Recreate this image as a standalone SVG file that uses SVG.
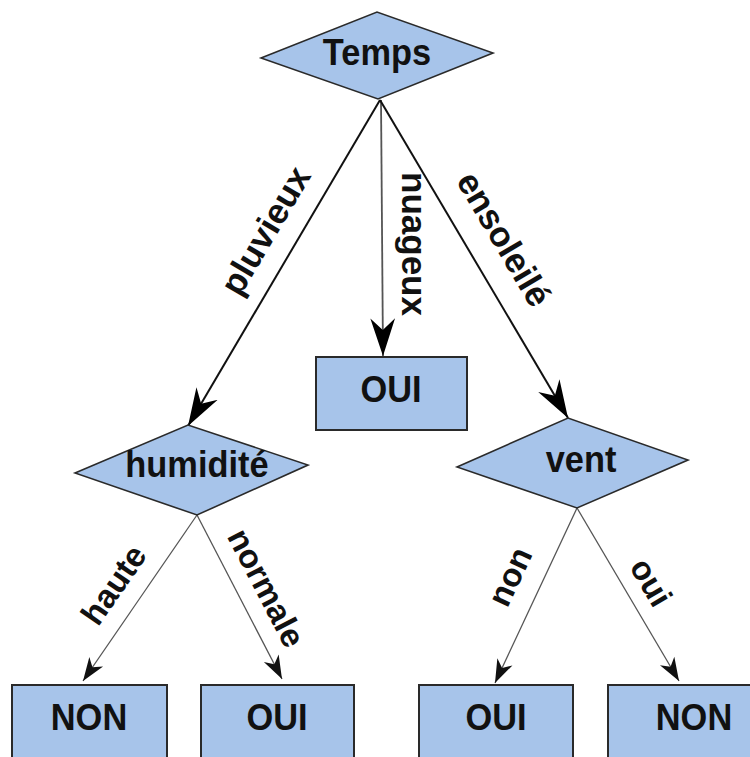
<svg xmlns="http://www.w3.org/2000/svg" width="750" height="757" viewBox="0 0 750 757">
<style>
.node{fill:#a7c4ea;stroke:#2a2a2a;stroke-width:2}
.dia{fill:#a7c4ea;stroke:#2a2a2a;stroke-width:1.6}
.nl{font-family:"Liberation Sans",Arial,sans-serif;font-weight:bold;font-size:37px;fill:#111;text-anchor:middle}
.el{font-family:"Liberation Sans",Arial,sans-serif;font-weight:bold;font-size:35px;fill:#111;text-anchor:middle}
.el2{font-family:"Liberation Sans",Arial,sans-serif;font-weight:bold;font-size:33px;fill:#111;text-anchor:middle}
.thick{stroke:#111;stroke-width:2;fill:none}
.mid{stroke:#555;stroke-width:1.8;fill:none}
.thin{stroke:#555;stroke-width:1.3;fill:none}
</style>
<defs>
<marker id="big" markerUnits="userSpaceOnUse" markerWidth="40" markerHeight="30" viewBox="-32 -12 34 24" refX="0" refY="0" orient="auto">
<path d="M0,0 L-32,-10.5 L-22,0 L-32,10.5 Z" fill="#000"/>
</marker>
<marker id="small" markerUnits="userSpaceOnUse" markerWidth="30" markerHeight="20" viewBox="-22 -9 24 18" refX="0" refY="0" orient="auto">
<path d="M0,0 L-21,-7.5 L-15,0 L-21,7.5 Z" fill="#111"/>
</marker>
</defs>
<rect width="750" height="757" fill="#fff"/>
<g id="connectors">
<line class="thick" x1="380" y1="100" x2="188" y2="426" marker-end="url(#big)"/>
<line class="mid" x1="381" y1="100" x2="383" y2="356" marker-end="url(#big)"/>
<line class="thick" x1="380" y1="100" x2="568" y2="418" marker-end="url(#big)"/>
<line class="thin" x1="197" y1="515" x2="83" y2="681" marker-end="url(#small)"/>
<line class="thin" x1="197" y1="515" x2="282" y2="679" marker-end="url(#small)"/>
<line class="thin" x1="577" y1="508" x2="495" y2="683" marker-end="url(#small)"/>
<line class="thin" x1="577" y1="508" x2="679" y2="681" marker-end="url(#small)"/>
<g transform="translate(268,232) rotate(-59.5)"><text class="el" x="0" y="9">pluvieux</text></g>
<g transform="translate(407,244) rotate(90)"><text class="el" x="0" y="5.5">nuageux</text></g>
<g transform="translate(504,239) rotate(59.4)"><text class="el" x="0" y="12">ensoleilé</text></g>
<g transform="translate(114,585) rotate(-55.4)"><text class="el2" x="0" y="11">haute</text></g>
<g transform="translate(266,588) rotate(62.5)"><text class="el2" x="0" y="11">normale</text></g>
<g transform="translate(513,578) rotate(-64.8)"><text class="el2" x="0" y="8">non</text></g>
<g transform="translate(650,583) rotate(59.3)"><text class="el2" x="0" y="10">oui</text></g>
</g>
<g id="temps">
<polygon class="dia" points="261,58 377,12 493,53 378,99"/>
<text class="nl" transform="translate(377,65) scale(0.93,1)">Temps</text>
</g>
<g id="oui-nuageux">
<rect class="node" x="316" y="357" width="151" height="73"/>
<text class="nl" transform="translate(391,402) scale(0.93,1)">OUI</text>
</g>
<g id="humidite">
<polygon class="dia" points="75,473 188,425 308,465 197,515"/>
<text class="nl" transform="translate(197,477) scale(0.93,1)">humidité</text>
</g>
<g id="vent">
<polygon class="dia" points="457,467 568,418 688,460 577,508"/>
<text class="nl" transform="translate(581,472) scale(0.93,1)">vent</text>
</g>
<g id="non-haute">
<rect class="node" x="12" y="685" width="155" height="90"/>
<text class="nl" transform="translate(89,730) scale(0.93,1)">NON</text>
</g>
<g id="oui-normale">
<rect class="node" x="201" y="685" width="153" height="90"/>
<text class="nl" transform="translate(277,730) scale(0.93,1)">OUI</text>
</g>
<g id="oui-non">
<rect class="node" x="419" y="685" width="154" height="90"/>
<text class="nl" transform="translate(496,730) scale(0.93,1)">OUI</text>
</g>
<g id="non-oui">
<rect class="node" x="608" y="685" width="172" height="90"/>
<text class="nl" transform="translate(694,730) scale(0.93,1)">NON</text>
</g>
</svg>
